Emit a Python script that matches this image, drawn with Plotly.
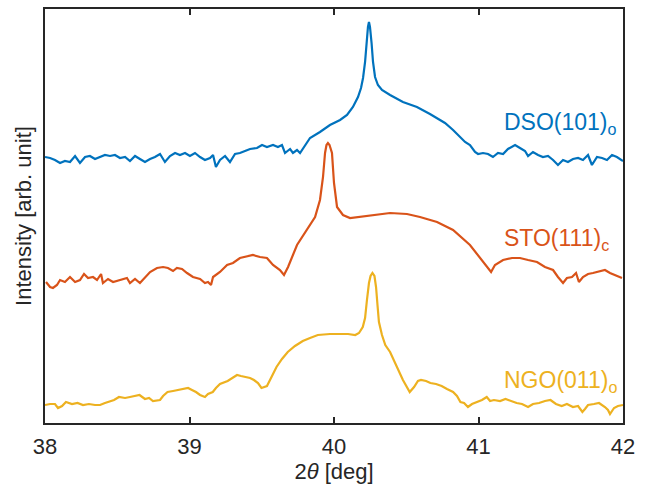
import plotly.graph_objects as go

# 2theta (deg) and intensity (arb. units, offset stacked)
dso_x = [38.000, 38.035, 38.069, 38.104, 38.138, 38.173, 38.208, 38.242, 38.277, 38.311,
         38.346, 38.381, 38.415, 38.450, 38.484, 38.519, 38.554, 38.588, 38.623, 38.657,
         38.692, 38.727, 38.761, 38.796, 38.830, 38.865, 38.900, 38.934, 38.969, 39.003,
         39.038, 39.073, 39.107, 39.142, 39.163, 39.183, 39.211, 39.246, 39.280, 39.315,
         39.349, 39.384, 39.419, 39.467, 39.502, 39.536, 39.578, 39.612, 39.640, 39.661,
         39.696, 39.716, 39.744, 39.765, 39.799, 39.834, 39.903, 39.972, 40.042, 40.090,
         40.131, 40.166, 40.187, 40.201, 40.215, 40.225, 40.235, 40.242, 40.249, 40.260,
         40.270, 40.284, 40.304, 40.332, 40.388, 40.477, 40.574, 40.664, 40.713, 40.768,
         40.824, 40.872, 40.907, 40.941, 40.976, 40.997, 41.031, 41.066, 41.100, 41.135,
         41.170, 41.204, 41.253, 41.287, 41.322, 41.343, 41.377, 41.412, 41.446, 41.481,
         41.516, 41.550, 41.585, 41.619, 41.654, 41.689, 41.723, 41.758, 41.785, 41.820,
         41.855, 41.889, 41.924, 41.958, 42.000]
dso_y = [266, 265, 263, 260, 262, 261, 267, 260, 266, 267,
         264, 266, 268, 267, 268, 265, 266, 262, 267, 264,
         261, 264, 266, 269, 261, 267, 270, 268, 270, 267,
         270, 266, 263, 265, 268, 256, 263, 267, 261, 269,
         270, 272, 274, 275, 278, 276, 278, 276, 278, 270,
         274, 270, 273, 270, 278, 285, 291, 298, 303, 308,
         316, 326, 335, 345, 361, 380, 396, 401, 396, 380,
         361, 346, 338, 333, 328, 321, 316, 309, 305, 300,
         293, 286, 281, 278, 271, 269, 270, 269, 266, 270,
         269, 274, 278, 275, 272, 267, 271, 268, 266, 267,
         263, 258, 263, 261, 264, 265, 263, 268, 258, 266,
         265, 263, 268, 266, 262]

sto_x = [38.007, 38.035, 38.055, 38.083, 38.104, 38.138, 38.173, 38.208, 38.242, 38.270,
         38.298, 38.332, 38.360, 38.388, 38.401, 38.436, 38.471, 38.519, 38.567, 38.588,
         38.623, 38.657, 38.692, 38.727, 38.775, 38.817, 38.851, 38.886, 38.913, 38.948,
         38.983, 39.024, 39.073, 39.107, 39.128, 39.149, 39.163, 39.211, 39.260, 39.301,
         39.349, 39.398, 39.439, 39.488, 39.536, 39.578, 39.626, 39.654, 39.682, 39.744,
         39.813, 39.869, 39.903, 39.924, 39.938, 39.948, 39.958, 39.969, 39.986, 40.000,
         40.021, 40.062, 40.111, 40.228, 40.388, 40.505, 40.595, 40.713, 40.824, 40.941,
         41.010, 41.059, 41.087, 41.114, 41.170, 41.232, 41.287, 41.343, 41.405, 41.460,
         41.516, 41.550, 41.585, 41.612, 41.647, 41.675, 41.695, 41.723, 41.758, 41.792,
         41.827, 41.875, 41.910, 41.945, 41.993]
sto_y = [141, 136, 135, 138, 143, 141, 146, 141, 143, 149,
         145, 146, 143, 149, 140, 144, 141, 143, 145, 140,
         144, 140, 145, 151, 155, 156, 155, 152, 155, 154,
         150, 146, 144, 140, 141, 138, 146, 151, 158, 160,
         165, 167, 168, 166, 165, 158, 153, 148, 156, 178,
         193, 206, 223, 246, 270, 278, 280, 278, 270, 240,
         216, 208, 205, 207, 210, 209, 206, 201, 193, 178,
         165, 156, 151, 158, 163, 165, 165, 163, 161, 156,
         153, 146, 140, 145, 146, 150, 141, 146, 149, 150,
         151, 153, 150, 148, 145]

ngo_x = [38.000, 38.035, 38.069, 38.090, 38.118, 38.145, 38.187, 38.225, 38.263, 38.304,
         38.346, 38.381, 38.415, 38.443, 38.478, 38.512, 38.554, 38.588, 38.623, 38.654,
         38.692, 38.720, 38.747, 38.796, 38.817, 38.848, 38.886, 38.927, 38.962, 38.990,
         39.017, 39.045, 39.073, 39.107, 39.128, 39.161, 39.183, 39.211, 39.264, 39.294,
         39.329, 39.356, 39.394, 39.419, 39.446, 39.474, 39.498, 39.516, 39.536, 39.571,
         39.602, 39.640, 39.680, 39.730, 39.784, 39.834, 39.888, 39.972, 40.044, 40.097,
         40.147, 40.173, 40.199, 40.215, 40.228, 40.242, 40.253, 40.266, 40.280, 40.291,
         40.301, 40.311, 40.332, 40.355, 40.388, 40.433, 40.477, 40.524, 40.554, 40.581,
         40.602, 40.637, 40.667, 40.706, 40.745, 40.782, 40.824, 40.851, 40.875, 40.900,
         40.927, 40.955, 40.992, 41.024, 41.057, 41.080, 41.107, 41.149, 41.187, 41.225,
         41.264, 41.301, 41.343, 41.377, 41.419, 41.460, 41.498, 41.536, 41.576, 41.612,
         41.654, 41.689, 41.719, 41.737, 41.758, 41.799, 41.834, 41.875, 41.896, 41.910,
         41.938, 41.965, 42.000]
ngo_y = [18, 19, 19, 15, 17, 21, 19, 20, 18, 19,
         18, 18, 20, 21, 23, 26, 25, 26, 27, 28,
         24, 25, 22, 23, 27, 31, 32, 33, 34, 35,
         33, 31, 28, 26, 29, 31, 35, 39, 42, 45,
         48, 47, 46, 45, 43, 40, 35, 36, 37, 47,
         56, 64, 71, 77, 82, 85, 88, 89, 89, 89,
         88, 90, 96, 105, 123, 140, 147, 150, 147, 136,
         118, 101, 88, 78, 71, 56, 43, 31, 36, 42,
         43, 42, 40, 39, 37, 34, 31, 27, 21, 20,
         16, 19, 21, 23, 26, 22, 23, 22, 24, 22,
         20, 19, 16, 19, 20, 22, 23, 19, 17, 19,
         16, 17, 11, 14, 18, 19, 20, 16, 13, 9,
         15, 17, 18]

series_names = ["DSO(101)<sub>o</sub>", "STO(111)<sub>c</sub>", "NGO(011)<sub>o</sub>"]
label_x = [41.163, 41.163, 41.163]
label_y = [300, 184, 42]
colors = ["#0072BD", "#D95319", "#EDB120"]
x_ticks = [38, 39, 40, 41, 42]

FONT = "Liberation Sans, Arial, Helvetica, sans-serif"
AX = "#262626"

fig = go.Figure()
for xs, ys, c, n in zip([dso_x, sto_x, ngo_x], [dso_y, sto_y, ngo_y], colors, series_names):
    fig.add_trace(go.Scatter(x=xs, y=ys, mode="lines", name=n,
                             line=dict(color=c, width=2.2), showlegend=False))

for n, lx, ly, c in zip(series_names, label_x, label_y, colors):
    fig.add_annotation(x=lx, y=ly, xref="x", yref="y", text=n, showarrow=False,
                       xanchor="left", yanchor="middle",
                       font=dict(family=FONT, size=23, color=c))

fig.update_layout(
    width=649, height=495,
    margin=dict(l=45, r=26, t=9, b=72),
    paper_bgcolor="white", plot_bgcolor="white",
    font=dict(family=FONT, size=22, color=AX),
    xaxis=dict(range=[38, 42], tickvals=x_ticks, ticktext=[str(t) for t in x_ticks],
               ticks="inside", ticklen=6, tickwidth=1.5, tickcolor=AX,
               showline=True, linecolor=AX, linewidth=1.5, mirror="ticks",
               showgrid=False, zeroline=False, automargin=False,
               ticklabelstandoff=3,
               tickfont=dict(family=FONT, size=22, color=AX),
               title=dict(text="2<i>θ</i> [deg]", font=dict(family=FONT, size=22, color=AX),
                          standoff=2)),
    yaxis=dict(range=[0, 414], showticklabels=False, ticks="",
               showline=True, linecolor=AX, linewidth=1.5, mirror=True,
               showgrid=False, zeroline=False, automargin=False,
               title=dict(text="Intensity [arb. unit]",
                          font=dict(family=FONT, size=22, color=AX), standoff=6)),
)

fig.write_html("out.html", config={"displayModeBar": False},
               post_script="document.body.style.margin='0';document.body.style.overflow='hidden';")
